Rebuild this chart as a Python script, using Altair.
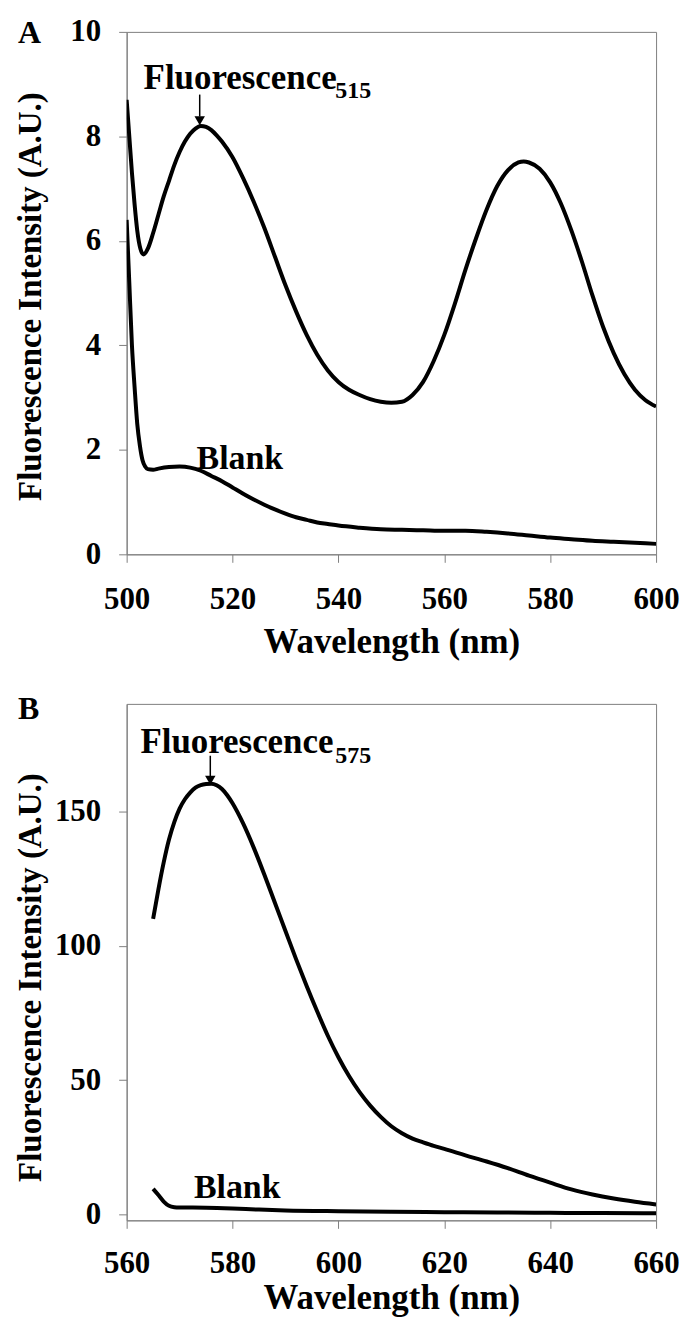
import altair as alt
import pandas as pd

# ---------------- Panel A data ----------------
a_sig_wl = [500, 500.5, 501, 501.5, 502, 502.6, 503.2, 504, 505, 506, 507, 508, 509, 510,
            511, 512, 513, 514, 515, 516, 517, 518, 520, 522, 524, 526, 528, 530, 532, 534,
            536, 538, 540, 542, 544, 546, 548, 550, 552, 554, 556, 558, 560, 562, 564, 566,
            568, 570, 572, 574, 575, 576, 578, 580, 582, 584, 586, 588, 590, 592, 594, 596,
            598, 600]
a_sig_val = [8.7, 8.0, 7.3, 6.7, 6.2, 5.85, 5.74, 5.85, 6.15, 6.5, 6.85, 7.15, 7.45, 7.7,
             7.9, 8.05, 8.15, 8.2, 8.18, 8.12, 8.02, 7.9, 7.6, 7.2, 6.75, 6.25, 5.7, 5.15, 4.65, 4.2,
             3.82, 3.52, 3.3, 3.15, 3.05, 2.97, 2.92, 2.9, 2.92, 3.05, 3.3, 3.7, 4.2, 4.8, 5.45, 6.05,
             6.6, 7.05, 7.35, 7.5, 7.52, 7.5, 7.38, 7.12, 6.72, 6.2, 5.6, 4.95, 4.35, 3.85, 3.45, 3.15,
             2.95, 2.83]

a_blank_wl = [500, 500.5, 501, 501.5, 502, 502.5, 503, 503.5, 504, 505, 506, 508, 510, 512,
              514, 516, 518, 520, 522, 524, 526, 528, 530, 532, 534, 536, 538, 540, 544, 548,
              552, 556, 560, 564, 568, 572, 576, 580, 584, 588, 592, 596, 600]
a_blank_val = [6.4, 5.2, 4.0, 3.2, 2.5, 2.08, 1.8, 1.68, 1.63, 1.62, 1.64, 1.67, 1.68, 1.66,
               1.6, 1.5, 1.4, 1.28, 1.16, 1.05, 0.95, 0.86, 0.78, 0.71, 0.66, 0.61, 0.58, 0.55, 0.51, 0.48,
               0.47, 0.46, 0.45, 0.45, 0.43, 0.4, 0.36, 0.32, 0.29, 0.26, 0.24, 0.22, 0.2]

# ---------------- Panel B data ----------------
b_sig_wl = [565, 566, 567, 568, 569, 570, 571, 572, 573, 574, 575, 576, 577, 578, 579, 580,
            582, 584, 586, 588, 590, 592, 594, 596, 598, 600, 602, 604, 606, 608, 610, 612,
            614, 616, 618, 620, 624, 628, 632, 636, 640, 644, 648, 652, 656, 660]
b_sig_val = [110, 121, 131, 139.5, 146, 151, 154.5, 157, 158.8, 159.8, 160.2, 160.3, 159.7, 158.3, 156, 153,
             145.5, 136.5, 126.5, 116, 105.5, 95, 85, 75.5, 66.5, 58.5, 51.5, 45.5, 40.5, 36.3, 32.8, 30.2,
             28.2, 26.8, 25.5, 24.4, 22, 19.7, 17.2, 14.4, 11.8, 9.3, 7.4, 5.9, 4.7, 3.7]

b_blank_wl = [565, 566, 567, 568, 569, 570, 575, 580, 585, 590, 600, 610, 620, 630, 640, 650, 660]
b_blank_val = [9.5, 7.2, 4.8, 3.2, 2.7, 2.6, 2.5, 2.2, 1.8, 1.5, 1.2, 1.0, 0.85, 0.7, 0.6, 0.5, 0.45]

# ---------------- ticks ----------------
a_ticks_x = [500, 520, 540, 560, 580, 600]
a_ticks_y = [0, 2, 4, 6, 8, 10]
b_ticks_x = [560, 580, 600, 620, 640, 660]
b_ticks_y = [0, 50, 100, 150]

FONT = "Liberation Serif"


def series_df(wl, val, name):
    return pd.DataFrame({"wl": wl, "val": val, "series": name})


def panel(sig_wl, sig_val, bl_wl, bl_val, xdom, ydom, xticks, yticks, w, h,
          label, label_y, fluo_pos, sub_text, sub_pos, arrow_x, arrow_top, arrow_head,
          blank_pos, x_title_y, y_title_y, x_label_pad):
    lines = pd.concat([series_df(sig_wl, sig_val, "signal"),
                       series_df(bl_wl, bl_val, "blank")])
    base_x = alt.X("wl:Q", scale=alt.Scale(domain=xdom, nice=False, zero=False),
                   axis=alt.Axis(values=xticks, title="Wavelength (nm)", labelFlush=False,
                                 labelPadding=x_label_pad, titleFontSize=35, titleY=x_title_y,
                                 titleBaseline="alphabetic", labelOverlap=False))
    base_y = alt.Y("val:Q", scale=alt.Scale(domain=ydom, nice=False, zero=False),
                   axis=alt.Axis(values=yticks, title="Fluorescence Intensity (A.U.)",
                                 labelFlush=False, labelPadding=18, titleFontSize=33,
                                 titleX=-86, titleY=y_title_y, titleBaseline="alphabetic",
                                 titleAngle=270, titleAlign="center", labelOverlap=False))
    line = alt.Chart(lines).mark_line(color="black", strokeWidth=4, interpolate="monotone",
                                      clip=True).encode(x=base_x, y=base_y, detail="series:N")

    fluo = alt.Chart(pd.DataFrame({"wl": [fluo_pos[0]], "val": [fluo_pos[1]], "t": ["Fluorescence"]})
                     ).mark_text(font=FONT, fontWeight="bold", fontSize=35, align="left",
                                 baseline="alphabetic", color="black").encode(
        x="wl:Q", y="val:Q", text="t:N")
    sub = alt.Chart(pd.DataFrame({"wl": [sub_pos[0]], "val": [sub_pos[1]], "t": [sub_text]})
                    ).mark_text(font=FONT, fontWeight="bold", fontSize=24, align="left",
                                baseline="alphabetic", color="black").encode(
        x="wl:Q", y="val:Q", text="t:N")
    blank = alt.Chart(pd.DataFrame({"wl": [blank_pos[0]], "val": [blank_pos[1]], "t": ["Blank"]})
                      ).mark_text(font=FONT, fontWeight="bold", fontSize=34, align="left",
                                  baseline="alphabetic", color="black").encode(
        x="wl:Q", y="val:Q", text="t:N")
    arrow_line = alt.Chart(pd.DataFrame({"wl": [arrow_x], "val": [arrow_top[0]], "val2": [arrow_top[1]]})
                           ).mark_rule(color="black", strokeWidth=1.5).encode(
        x="wl:Q", y="val:Q", y2="val2:Q")
    arrow_tip = alt.Chart(pd.DataFrame({"wl": [arrow_x], "val": [arrow_head]})
                          ).mark_point(shape="triangle-down", filled=True, size=110, color="black",
                                       opacity=1).encode(x="wl:Q", y="val:Q")
    letter = alt.Chart(pd.DataFrame({"t": [label]})).mark_text(
        font=FONT, fontWeight="bold", fontSize=32, align="left", baseline="top",
        color="black").encode(x=alt.value(-109), y=alt.value(label_y), text="t:N")

    return alt.layer(line, fluo, sub, blank, arrow_line, arrow_tip, letter).properties(
        width=w, height=h)


# Panel A
pa = panel(a_sig_wl, a_sig_val, a_blank_wl, a_blank_val, [500, 600], [0, 10],
           a_ticks_x, a_ticks_y, 531, 524,
           "A", -14, (503.2, 8.90), "515", (539.4, 8.73), 513.8, (8.8, 8.38), 8.30,
           (513.2, 1.64), 98, 265, 22)

# Panel B
pb = panel(b_sig_wl, b_sig_val, b_blank_wl, b_blank_val, [560, 660], [-2.2, 190],
           b_ticks_x, b_ticks_y, 531, 518,
           "B", -10, (562.6, 171.8), "575", (599.4, 168.1), 575.8, (170.7, 163.0), 161.6,
           (572.7, 6.2), 88, 274, 20)

chart = alt.vconcat(pa, pb, spacing=150, bounds="flush").properties(
    padding={"left": 6, "top": 5, "right": 0, "bottom": 0}
).configure_view(stroke="#808080", strokeWidth=1).configure_axis(
    domainColor="#808080", tickColor="#808080", tickSize=8, domainWidth=1, tickWidth=1,
    labelFont=FONT, labelFontWeight="bold", labelFontSize=31, labelColor="black",
    titleFont=FONT, titleFontWeight="bold", titleColor="black", grid=False
)

chart.save("out.html", embed_options={"renderer": "svg", "actions": False})
